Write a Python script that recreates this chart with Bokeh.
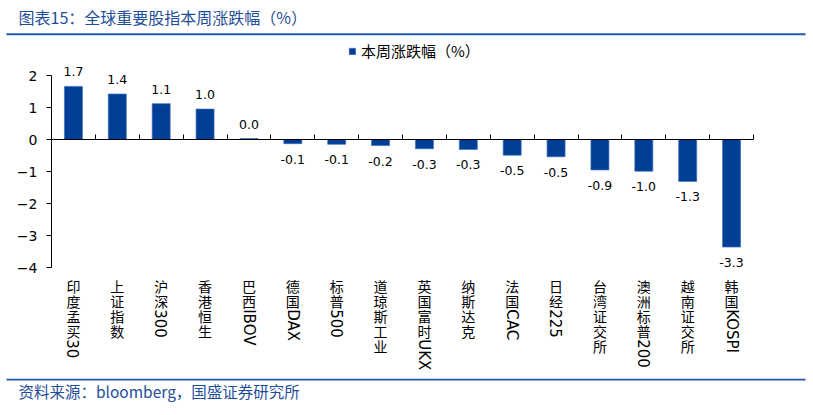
import numpy as np
from bokeh.plotting import figure
from bokeh.layouts import column
from bokeh.models import (Range1d, FixedTicker, ColumnDataSource, LabelSet, Label,
                          Legend, LegendItem)
from bokeh.core.properties import value
from bokeh.embed import file_html
from bokeh.resources import INLINE

# ---------------- data ----------------
categories = ["印度孟买30", "上证指数", "沪深300", "香港恒生", "巴西IBOV", "德国DAX",
              "标普500", "道琼斯工业", "英国富时UKX", "纳斯达克", "法国CAC", "日经225",
              "台湾证交所", "澳洲标普200", "越南证交所", "韩国KOSPI"]
changes = [1.66, 1.42, 1.12, 0.95, 0.03, -0.13, -0.15, -0.19, -0.29, -0.31,
           -0.49, -0.54, -0.95, -0.99, -1.31, -3.36]
value_labels = ["1.7", "1.4", "1.1", "1.0", "0.0", "-0.1", "-0.1", "-0.2", "-0.3", "-0.3",
                "-0.5", "-0.5", "-0.9", "-1.0", "-1.3", "-3.3"]
y_ticks = [-4, -3, -2, -1, 0, 1, 2]
series_name = "本周涨跌幅（%）"
title_text = "图表15：全球重要股指本周涨跌幅（%）"
source_text = "资料来源：bloomberg，国盛证券研究所"

# ---------------- layout (page pixels) ----------------
W = 813
FL = 51                    # frame left (y axis position)
FW = W - FL
TITLE_H = 36               # title strip 0..36
MAIN_TOP = TITLE_H
MAIN_BOT = 378
FH = MAIN_BOT - MAIN_TOP
SRC_H = 415 - MAIN_BOT     # source strip 378..415
RULE_X0, RULE_X1 = 6, 805
YMIN, YMAX = -4, 2
AX_TOP, AX_BOT = 75, 267   # pixel rows of y=2 and y=-4
n = len(categories)
PX_Y = (AX_BOT - AX_TOP) / (YMAX - YMIN)
PX_X = 702 / n

BAR = "#003F95"
BLUE_LINE = "#2159A8"
TITLE_BLUE = "#1F4E99"
CJK = "Noto Sans CJK SC"
LAT = "DejaVu Sans"


def yd(fy):
    return YMAX - (fy - AX_TOP) / PX_Y


def strip(height):
    # data coordinates equal page pixels within the strip (y downward)
    f = figure(width=W, height=height, output_backend="svg", toolbar_location=None,
               x_axis_location=None, y_axis_location=None,
               x_range=Range1d(0, W), y_range=Range1d(height, 0),
               min_border=0, frame_align=False)
    f.title.visible = False
    f.outline_line_color = None
    f.grid.visible = False
    return f


# ---------------- title strip ----------------
pt = strip(TITLE_H)
pt.add_layout(Label(x=18, y=16, text=title_text, text_align="left", text_baseline="middle",
                    text_font=CJK, text_font_size="16px", text_color=TITLE_BLUE))
pt.segment(x0=[RULE_X0], y0=[33.7], x1=[RULE_X1], y1=[33.7],
           line_color=BLUE_LINE, line_width=2)

# ---------------- main chart ----------------
p = figure(frame_width=FW, frame_height=FH, output_backend="svg", toolbar_location=None,
           x_range=Range1d(0, FW / PX_X), y_range=Range1d(yd(MAIN_BOT), yd(MAIN_TOP)),
           min_border_left=FL, min_border_right=0, min_border_top=0, min_border_bottom=0,
           frame_align=False)
p.title.visible = False
p.outline_line_color = None
p.xgrid.visible = False
p.ygrid.visible = False

xa = p.xaxis[0]
xa.ticker = FixedTicker(ticks=[], minor_ticks=list(range(1, n + 1)))
xa.fixed_location = 0
xa.bounds = (0, n)
xa.major_tick_in = 0
xa.major_tick_out = 0
xa.minor_tick_in = 5
xa.minor_tick_out = 0
xa.major_label_standoff = 0
xa.axis_line_color = "black"
xa.minor_tick_line_color = "black"

ya = p.yaxis[0]
ya.ticker = FixedTicker(ticks=y_ticks)
ya.bounds = (YMIN, YMAX)
ya.major_tick_out = 5
ya.major_tick_in = 0
ya.minor_tick_line_color = None
ya.axis_line_color = "black"
ya.major_tick_line_color = "black"
ya.major_label_text_font = LAT
ya.major_label_text_font_size = "14px"
ya.major_label_text_color = "black"
ya.major_label_standoff = 9

xs = np.arange(n) + 0.5
src = ColumnDataSource(dict(x=xs, top=changes))
r = p.vbar(x="x", top="top", bottom=0, width=0.41, source=src,
           fill_color=BAR, line_color="#3D6DB6", line_width=0.7)

# value labels
pos_idx = [i for i, v in enumerate(changes) if v >= 0]
neg_idx = [i for i, v in enumerate(changes) if v < 0]
src_pos = ColumnDataSource(dict(x=[xs[i] for i in pos_idx], y=[changes[i] for i in pos_idx],
                                text=[value_labels[i] for i in pos_idx]))
src_neg = ColumnDataSource(dict(x=[xs[i] for i in neg_idx], y=[changes[i] for i in neg_idx],
                                text=[value_labels[i] for i in neg_idx]))
p.add_layout(LabelSet(x="x", y="y", text="text", source=src_pos, text_align="center",
                      text_baseline="bottom", y_offset=10, text_font=value(LAT),
                      text_font_size="12.5px", text_color="black"))
p.add_layout(LabelSet(x="x", y="y", text="text", source=src_neg, text_align="center",
                      text_baseline="top", y_offset=-11, text_font=value(LAT),
                      text_font_size="12.5px", text_color="black"))

# vertical category labels: CJK upright, Latin rotated
cjk_x, cjk_y, cjk_t = [], [], []
lat_x, lat_y, lat_t = [], [], []
for i, name in enumerate(categories):
    cur = 278.2
    run = ""
    for ch in list(name) + [None]:
        if ch is not None and ch.isascii():
            run += ch
            continue
        if run:
            lat_x.append(xs[i])
            lat_y.append(yd(cur + 0.5))
            lat_t.append(run)
            cur += 9 * len(run)
            run = ""
        if ch is None:
            break
        cjk_x.append(xs[i])
        cjk_y.append(yd(cur + 7.5))
        cjk_t.append(ch)
        cur += 15

p.add_layout(LabelSet(x="x", y="y", text="text",
                      source=ColumnDataSource(dict(x=cjk_x, y=cjk_y, text=cjk_t)),
                      text_align="center", text_baseline="middle",
                      text_font=value(CJK), text_font_size="14px", text_color="black"))
p.add_layout(LabelSet(x="x", y="y", text="text",
                      source=ColumnDataSource(dict(x=lat_x, y=lat_y, text=lat_t)),
                      angle=-np.pi / 2, text_align="left", text_baseline="middle",
                      text_font=value(LAT), text_font_size="15px", text_color="black"))

# legend
legend = Legend(items=[LegendItem(label=series_name, renderers=[r])],
                location=(348 - FL, MAIN_BOT - 61), orientation="horizontal",
                padding=0, margin=0, border_line_color=None, background_fill_alpha=0,
                glyph_width=8, glyph_height=8, label_standoff=5, label_height=15,
                label_text_font=CJK, label_text_font_size="15px", label_text_color="black")
p.add_layout(legend)

# ---------------- source strip ----------------
ps = strip(SRC_H)
ps.segment(x0=[RULE_X0], y0=[379 - MAIN_BOT], x1=[RULE_X1], y1=[379 - MAIN_BOT],
           line_color=BLUE_LINE, line_width=2)
ps.add_layout(Label(x=18, y=390 - MAIN_BOT, text=source_text, text_align="left",
                    text_baseline="middle", text_font=CJK, text_font_size="15.5px",
                    text_color=TITLE_BLUE))

page = column(pt, p, ps, spacing=0)
open("out.html", "w").write(file_html(page, INLINE))
